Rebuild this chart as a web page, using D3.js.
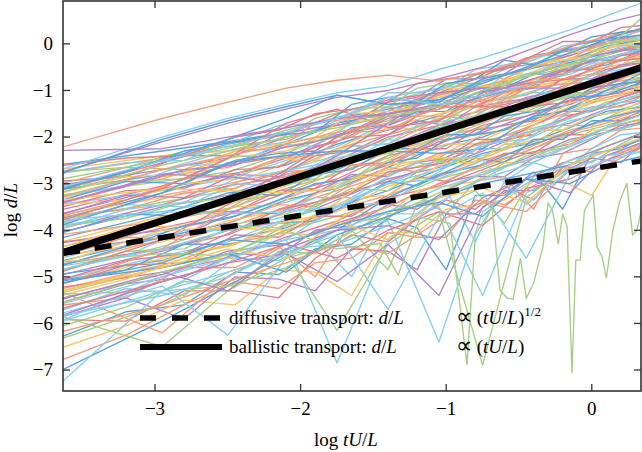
<!DOCTYPE html>
<html lang="en">
<head>
<meta charset="UTF-8" />
<title>log d/L against log tU/L</title>
<script src="https://d3js.org/d3.v7.min.js"></script>
<style>
  body { margin: 0; background: #fff; }
  svg { display: block; }
</style>
</head>
<body>
<svg width="642" height="452" font-family="'Liberation Serif', 'Times New Roman', serif"></svg>
<script>
// coarse time grid (log tU/L) for the first set of trajectories
const logT = [-3.9, -2.95, -2.5, -2.1, -1.75, -1.4, -1.05, -0.75, -0.45, -0.15, 0.1, 0.36];
// finer grid for the second set
const logT2 = [-3.9, -3.2, -2.8, -2.45, -2.15, -1.9, -1.65, -1.4, -1.2, -1.0, -0.8, -0.6, -0.4, -0.2, 0.0, 0.2, 0.36];

// log d/L, one row per trajectory
const topRuns = [
  [-2.45, -1.6, -1.25, -0.95, -0.78, -0.67, -0.8, -0.6, -0.35, -0.05, 0.15, 0.3],
  [-2.95, -2.0, -1.6, -1.3, -1.05, -0.9, -0.55, -0.3, 0.0, 0.3, 0.6, 0.9],
  [-3.0, -2.1, -1.7, -1.4, -1.15, -1.0, -0.75, -0.5, -0.15, 0.2, 0.45, 0.65],
  [-3.05, -2.05, -1.65, -1.35, -1.1, -1.3, -1.2, -0.85, -0.5, -0.2, 0.1, 0.35],
  [-2.3, -2.25, -2.0, -1.8, -1.6, -1.5, -1.3, -1.1, -0.8, -0.5, -0.3, -0.1],
  [-3.3, -2.5, -2.2, -1.9, -1.6, -1.15, -1.3, -1.1, -0.9, -0.6, -0.3, -0.1],
  [-3.4, -2.6, -2.3, -2.0, -1.8, -1.55, -1.35, -1.0, -0.7, -0.5, -0.1, 0.6],
  [-3.5, -2.7, -2.4, -2.15, -1.9, -1.7, -1.4, -1.2, -0.9, -0.6, -0.4, -0.2]
];
const topColors = [0, 5, 2, 1, 2, 5, 3, 0];

const bandRuns = [
  [-2.7, -2.3, -2.1, -1.9, -1.6, -1.4, -1.2, -0.95, -0.7, -0.4, -0.2, 0.0],
  [-2.8, -2.4, -2.3, -2.0, -1.75, -1.55, -1.15, -0.9, -0.65, -0.3, -0.1, 0.1],
  [-2.9, -2.45, -2.2, -2.05, -1.7, -1.35, -1.1, -0.8, -0.55, -0.25, 0.0, 0.2],
  [-3.05, -2.5, -2.25, -1.85, -1.6, -1.25, -0.95, -0.6, -0.4, -0.05, 0.15, 0.35],
  [-3.35, -2.55, -2.15, -1.95, -1.5, -1.2, -1.05, -0.7, -0.3, -0.15, 0.05, 0.3],
  [-3.15, -2.7, -2.45, -2.0, -1.75, -1.45, -1.0, -0.6, -0.45, -0.25, 0.05, 0.2],
  [-3.55, -2.7, -2.3, -2.1, -1.65, -1.15, -0.95, -0.85, -0.5, -0.1, 0.0, 0.15],
  [-3.25, -2.8, -2.6, -2.15, -1.7, -1.5, -1.2, -0.8, -0.55, -0.35, -0.05, 0.1],
  [-3.45, -2.9, -2.45, -2.3, -1.85, -1.35, -1.15, -0.95, -0.55, -0.2, -0.1, 0.05],
  [-3.65, -2.85, -2.65, -2.2, -2.0, -1.55, -1.1, -0.9, -0.7, -0.35, -0.15, 0.0],
  [-3.35, -2.95, -2.75, -2.35, -1.9, -1.65, -1.25, -1.05, -0.65, -0.45, -0.25, 0.0],
  [-3.75, -3.05, -2.6, -2.4, -2.1, -1.6, -1.4, -1.0, -0.8, -0.55, -0.2, -0.05],
  [-3.85, -3.1, -2.85, -2.45, -1.95, -1.75, -1.35, -1.15, -0.9, -0.5, -0.3, -0.15],
  [-3.55, -3.15, -2.9, -2.5, -2.2, -1.7, -1.3, -1.2, -0.85, -0.65, -0.35, -0.1],
  [-3.95, -3.2, -2.8, -2.6, -2.15, -1.85, -1.55, -1.1, -0.95, -0.6, -0.45, -0.2],
  [-3.8, -3.3, -3.05, -2.55, -2.3, -1.8, -1.5, -1.3, -0.95, -0.75, -0.4, -0.25],
  [-4.05, -3.25, -3.0, -2.75, -2.25, -1.95, -1.65, -1.25, -1.1, -0.7, -0.5, -0.35],
  [-3.9, -3.4, -3.15, -2.7, -2.4, -2.05, -1.6, -1.45, -1.05, -0.8, -0.6, -0.3],
  [-4.15, -3.45, -3.05, -2.85, -2.5, -2.0, -1.75, -1.4, -1.2, -0.85, -0.55, -0.4],
  [-4.25, -3.5, -3.25, -2.8, -2.55, -2.2, -1.75, -1.55, -1.15, -0.95, -0.65, -0.5],
  [-4.0, -3.6, -3.35, -2.95, -2.45, -2.2, -1.9, -1.5, -1.3, -0.95, -0.75, -0.45],
  [-4.35, -3.65, -3.2, -3.0, -2.7, -2.25, -1.8, -1.65, -1.25, -1.05, -0.75, -0.6],
  [-4.45, -3.7, -3.45, -3.05, -2.6, -2.35, -1.95, -1.6, -1.4, -1.05, -0.85, -0.6],
  [-4.2, -3.8, -3.55, -3.1, -2.8, -2.3, -2.05, -1.7, -1.35, -1.15, -0.85, -0.7],
  [-4.55, -3.85, -3.4, -3.2, -2.75, -2.45, -2.0, -1.8, -1.45, -1.1, -0.95, -0.7],
  [-4.65, -3.95, -3.65, -3.2, -2.9, -2.4, -2.15, -1.75, -1.55, -1.2, -0.9, -0.8],
  [-4.35, -4.0, -3.75, -3.3, -2.95, -2.6, -2.1, -1.9, -1.55, -1.3, -1.0, -0.75],
  [-4.8, -4.05, -3.6, -3.4, -3.05, -2.5, -2.25, -1.85, -1.65, -1.25, -1.05, -0.85],
  [-4.85, -4.15, -3.85, -3.35, -3.1, -2.65, -2.2, -2.0, -1.65, -1.4, -1.1, -0.9],
  [-4.65, -4.25, -3.8, -3.55, -3.0, -2.7, -2.4, -1.95, -1.75, -1.35, -1.2, -0.95],
  [-4.95, -4.2, -3.95, -3.5, -3.15, -2.8, -2.35, -2.15, -1.8, -1.45, -1.15, -1.0],
  [-5.05, -4.35, -3.9, -3.65, -3.3, -2.8, -2.5, -2.1, -1.85, -1.6, -1.25, -1.1],
  [-4.85, -4.4, -4.1, -3.6, -3.25, -2.95, -2.55, -2.2, -1.95, -1.55, -1.35, -1.1],
  [-5.15, -4.45, -4.0, -3.8, -3.35, -2.9, -2.65, -2.3, -1.9, -1.7, -1.4, -1.2],
  [-5.25, -4.55, -4.25, -3.75, -3.45, -3.0, -2.55, -2.4, -2.05, -1.65, -1.5, -1.25],
  [-5.05, -4.65, -4.2, -3.95, -3.5, -3.15, -2.7, -2.35, -2.15, -1.8, -1.45, -1.35],
  [-5.35, -4.6, -4.35, -3.9, -3.6, -3.05, -2.8, -2.45, -2.1, -1.9, -1.6, -1.35],
  [-5.45, -4.75, -4.3, -4.05, -3.55, -3.25, -2.85, -2.5, -2.25, -1.85, -1.65, -1.4],
  [-5.55, -4.8, -4.5, -4.0, -3.7, -3.35, -2.9, -2.65, -2.3, -1.95, -1.75, -1.5],
  [-5.35, -4.9, -4.6, -4.15, -3.8, -3.3, -3.05, -2.7, -2.35, -2.15, -1.8, -1.6],
  [-5.65, -4.95, -4.45, -4.3, -3.85, -3.5, -3.0, -2.8, -2.45, -2.05, -1.9, -1.65]
];

// trajectories that wander across the bundle
const crossRuns = [
  [-3.45, -3.1, -3.15, -3.2, -3.1, -2.5, -1.95, -1.35, -0.85, -0.45, -0.4, -0.3],
  [-5.15, -4.2, -3.45, -2.7, -2.0, -1.5, -1.35, -1.35, -1.35, -1.25, -0.9, -0.5],
  [-4.15, -3.2, -2.55, -2.4, -2.3, -2.3, -2.35, -2.25, -1.65, -1.15, -1.1, -0.8],
  [-4.75, -4.5, -4.55, -3.9, -3.1, -2.4, -1.75, -1.15, -0.65, -0.45, 0.0, 0.1],
  [-3.85, -3.6, -3.65, -3.6, -3.5, -3.4, -2.75, -2.15, -2.05, -1.45, -1.3, -1.2],
  [-5.45, -4.4, -3.55, -2.8, -2.6, -2.6, -2.05, -1.45, -0.95, -0.85, -0.8, -0.4],
  [-3.65, -2.8, -2.85, -3.0, -2.4, -1.7, -1.05, -0.95, -0.95, -0.95, -0.9, -0.4],
  [-4.95, -4.0, -3.95, -4.0, -3.4, -2.6, -2.45, -2.45, -1.85, -1.25, -1.2, -0.9],
  [-4.05, -3.1, -2.45, -1.7, -1.4, -1.8, -1.65, -1.05, -0.85, -0.75, -0.4, -0.3],
  [-3.35, -2.5, -2.05, -1.6, -1.1, -1.3, -1.25, -0.75, -0.55, -0.05, 0.1, 0.2]
];

// sparse, spiky trajectories below the bundle
const lowRuns = [
  [-7.4, -5.95, -5.2, -4.5, -4.0, -3.3, -2.8, -2.6, -2.2, -1.9, -1.6, -1.4],
  [-8.0, -5.3, -4.6, -4.2, -3.5, -3.0, -2.7, -2.2, -1.9, -1.6, -1.3, -1.05],
  [-5.0, -6.2, -5.0, -4.3, -3.9, -3.5, -3.0, -2.6, -2.3, -1.9, -1.7, -1.45],
  [-5.6, -6.5, -5.3, -4.6, -4.3, -3.7, -3.2, -2.75, -2.5, -2.1, -1.8, -1.6],
  [-5.4, -5.3, -5.2, -4.8, -4.2, -3.6, -3.3, -2.9, -2.4, -2.2, -1.9, -1.7],
  [-6.0, -5.2, -6.25, -4.6, -4.0, -3.6, -3.1, -2.8, -2.5, -2.2, -1.8, -1.5],
  [-6.3, -5.0, -4.6, -4.2, -6.85, -4.2, -3.4, -2.9, -2.6, -2.2, -1.9, -1.7],
  [-6.6, -5.6, -4.9, -4.5, -6.15, -4.3, -3.6, -6.9, -3.3, -2.6, -2.2, -1.9],
  [-6.1, -5.1, -4.7, -4.5, -5.1, -4.3, -5.4, -3.5, -2.9, -2.5, -2.2, -1.9],
  [-5.8, -5.0, -4.5, -4.2, -4.0, -3.8, -6.4, -3.6, -3.0, -2.5, -2.3, -2.0],
  [-6.0, -5.4, -5.0, -4.4, -4.3, -3.9, -3.5, -5.4, -3.2, -2.7, -2.4, -2.1],
  [-5.2, -4.8, -4.5, -4.9, -4.1, -3.7, -3.3, -3.0, -2.8, -2.6, -2.3, -2.05],
  [-5.9, -5.1, -4.7, -4.3, -4.6, -4.0, -3.6, -3.9, -3.1, -2.9, -2.5, -2.2],
  [-6.4, -5.6, -5.1, -4.7, -4.3, -4.5, -3.8, -3.4, -3.6, -2.7, -2.4, -2.2],
  [-5.7, -4.9, -5.3, -4.4, -4.0, -3.9, -4.2, -3.3, -2.9, -3.2, -2.4, -2.1],
  [-5.5, -4.8, -4.4, -4.6, -3.8, -4.2, -3.3, -3.1, -3.4, -2.6, -2.3, -2.0],
  [-6.2, -5.3, -4.9, -4.5, -4.1, -5.7, -3.7, -3.2, -4.6, -2.8, -2.5, -2.3],
  [-5.3, -4.7, -4.2, -4.3, -3.9, -3.6, -3.4, -3.7, -2.9, -3.0, -2.6, -2.4],
  [-5.0, -4.4, -4.0, -3.7, -3.5, -3.0, -2.9, -2.5, -3.45, -2.7, -2.4, -2.3]
];
const lowColors = [1, 5, 0, 3, 3, 5, 5, 3, 2, 5, 5, 1, 6, 0, 2, 4, 5, 1, 5];

// second set, sampled on logT2
const fineRuns = [
  [-3.0, -2.85, -2.4, -2.4, -1.95, -1.8, -1.7, -1.25, -1.15, -0.75, -0.75, -0.65, -0.25, -0.15, -0.05, 0.25, 0.3],
  [-3.2, -2.65, -2.7, -2.3, -2.25, -1.7, -1.6, -1.55, -1.15, -1.05, -0.65, -0.75, -0.45, -0.45, -0.05, 0.05, 0.1],
  [-3.4, -3.05, -2.6, -2.6, -2.15, -2.2, -1.7, -1.35, -1.45, -1.15, -1.15, -0.65, -0.65, -0.35, -0.35, -0.05, 0.0],
  [-3.1, -2.95, -2.9, -2.4, -2.45, -2.0, -2.0, -1.55, -1.25, -1.35, -0.95, -0.85, -0.85, -0.45, -0.35, -0.25, 0.0],
  [-3.6, -2.95, -3.0, -2.5, -2.35, -2.3, -1.8, -1.75, -1.45, -1.45, -1.05, -0.95, -0.65, -0.65, -0.35, -0.35, -0.1],
  [-3.7, -3.15, -3.1, -2.7, -2.65, -2.2, -2.0, -1.95, -1.55, -1.25, -1.35, -1.05, -0.95, -0.55, -0.55, -0.25, -0.2],
  [-3.5, -3.35, -3.0, -2.9, -2.45, -2.5, -2.1, -1.75, -1.85, -1.45, -1.35, -1.25, -0.85, -0.85, -0.55, -0.45, -0.2],
  [-3.9, -3.25, -3.3, -2.8, -2.85, -2.4, -2.3, -1.95, -1.65, -1.75, -1.35, -1.25, -1.15, -0.75, -0.75, -0.45, -0.4],
  [-3.8, -3.55, -3.2, -3.1, -2.75, -2.7, -2.2, -2.15, -1.85, -1.55, -1.65, -1.25, -1.25, -0.95, -0.65, -0.65, -0.4],
  [-4.1, -3.45, -3.5, -3.0, -3.05, -2.6, -2.5, -2.05, -2.15, -1.75, -1.55, -1.55, -1.15, -1.15, -0.85, -0.55, -0.6],
  [-4.0, -3.75, -3.4, -3.3, -2.95, -2.9, -2.4, -2.35, -2.05, -2.05, -1.65, -1.35, -1.35, -1.05, -1.05, -0.75, -0.5],
  [-4.3, -3.65, -3.7, -3.2, -3.25, -2.8, -2.7, -2.25, -2.25, -1.95, -1.95, -1.55, -1.45, -1.35, -0.95, -0.85, -0.6],
  [-4.4, -4.05, -3.6, -3.6, -3.15, -3.1, -2.6, -2.55, -2.25, -2.25, -1.85, -1.75, -1.65, -1.25, -1.15, -1.05, -0.8],
  [-4.6, -3.95, -3.9, -3.5, -3.45, -3.0, -2.9, -2.75, -2.35, -2.15, -2.15, -1.85, -1.55, -1.55, -1.25, -0.95, -0.9],
  [-4.5, -4.25, -4.1, -3.6, -3.65, -3.2, -2.8, -2.85, -2.55, -2.45, -2.05, -2.05, -1.75, -1.45, -1.45, -1.15, -1.0],
  [-4.8, -4.15, -4.2, -3.8, -3.45, -3.5, -3.0, -2.65, -2.75, -2.35, -2.35, -1.95, -1.95, -1.65, -1.35, -1.35, -1.1],
  [-4.9, -4.55, -4.0, -4.0, -3.65, -3.3, -3.3, -2.85, -2.55, -2.65, -2.25, -2.25, -1.85, -1.85, -1.55, -1.25, -1.2],
  [-5.1, -4.45, -4.4, -3.9, -3.95, -3.5, -3.1, -3.15, -2.75, -2.45, -2.55, -2.15, -2.15, -1.75, -1.75, -1.45, -1.3],
  [-5.2, -4.85, -4.3, -4.3, -3.85, -3.8, -3.4, -2.95, -3.05, -2.75, -2.45, -2.55, -2.05, -2.05, -1.65, -1.65, -1.4],
  [-5.4, -4.75, -4.7, -4.1, -4.15, -3.7, -3.7, -3.25, -2.85, -2.95, -2.65, -2.35, -2.35, -1.95, -1.95, -1.65, -1.5],
  [-5.6, -5.05, -4.6, -4.6, -4.05, -4.1, -3.6, -3.65, -3.15, -3.05, -2.95, -2.55, -2.55, -2.25, -1.85, -1.85, -1.6],
  [-5.8, -5.15, -5.0, -4.5, -4.55, -4.0, -3.9, -3.45, -3.55, -3.15, -2.85, -2.85, -2.45, -2.35, -2.05, -1.75, -1.7],
  [-5.7, -5.45, -4.8, -4.8, -4.35, -5.0, -3.8, -3.75, -3.25, -3.65, -2.95, -2.85, -3.55, -2.35, -2.25, -1.85, -1.8],
  [-6.0, -5.25, -5.4, -4.6, -4.65, -4.2, -5.0, -3.65, -3.65, -3.15, -4.25, -2.95, -2.55, -2.75, -2.25, -1.95, -1.9],
  [-6.3, -5.65, -5.1, -5.2, -4.45, -4.5, -4.0, -4.85, -3.45, -3.45, -3.15, -3.85, -2.85, -2.55, -2.55, -2.15, -1.9],
  [-6.6, -5.75, -5.6, -4.9, -4.95, -4.4, -4.3, -3.75, -3.95, -4.85, -3.25, -3.25, -2.75, -3.55, -2.35, -2.25, -2.0],
  [-5.9, -5.95, -5.3, -5.3, -5.45, -4.6, -4.1, -4.25, -3.75, -3.35, -3.55, -3.05, -3.35, -2.65, -2.65, -2.35, -2.1],
  [-6.8, -6.05, -5.5, -5.6, -4.85, -4.9, -5.4, -4.05, -4.05, -3.55, -3.45, -3.35, -2.95, -2.95, -3.25, -2.25, -2.2],
  [-6.1, -5.45, -5.9, -5.0, -5.05, -5.3, -4.4, -4.45, -4.85, -3.65, -3.65, -3.15, -3.15, -2.75, -2.45, -2.55, -2.1],
  [-7.1, -6.25, -5.6, -5.1, -5.25, -4.7, -4.6, -4.05, -4.15, -4.15, -3.35, -3.45, -3.05, -2.65, -2.75, -2.45, -2.2],
  [-2.9, -2.55, -2.5, -2.1, -1.75, -1.7, -1.5, -1.05, -1.05, -0.95, -0.55, -0.45, -0.35, -0.05, 0.05, 0.15, 0.3],
  [-2.8, -2.65, -2.3, -2.2, -2.05, -1.6, -1.4, -1.35, -0.95, -0.85, -0.85, -0.55, -0.25, -0.25, 0.05, 0.05, 0.2],
  [-3.3, -2.75, -2.3, -2.1, -1.95, -1.9, -1.3, -1.15, -1.25, -0.85, -0.75, -0.35, -0.45, -0.15, 0.15, 0.25, 0.3],
  [-2.7, -2.45, -2.4, -2.0, -1.85, -1.5, -1.4, -1.25, -0.85, -0.75, -0.65, -0.55, -0.25, 0.05, 0.05, 0.35, 0.4],
  [-3.4, -2.85, -2.8, -2.3, -2.15, -2.0, -1.5, -1.45, -1.35, -0.95, -0.95, -0.85, -0.45, -0.35, -0.25, 0.05, 0.1],
  [-3.6, -3.05, -2.7, -2.6, -2.25, -2.1, -1.9, -1.55, -1.55, -1.25, -0.95, -0.95, -0.75, -0.65, -0.25, -0.15, -0.1],
  [-3.9, -3.35, -2.9, -2.8, -2.45, -2.4, -1.9, -1.85, -1.55, -1.55, -1.25, -1.15, -0.75, -0.75, -0.65, -0.35, -0.3],
  [-4.2, -3.55, -3.4, -2.9, -2.75, -2.6, -2.2, -2.15, -1.75, -1.65, -1.55, -1.15, -1.05, -1.05, -0.65, -0.55, -0.5],
  [-4.7, -4.05, -3.7, -3.5, -3.05, -2.9, -2.4, -2.35, -2.05, -1.75, -1.75, -1.45, -1.45, -1.15, -1.05, -0.95, -0.7],
  [-5.0, -4.35, -3.9, -3.7, -3.35, -3.0, -2.9, -2.55, -2.45, -2.05, -1.95, -1.85, -1.55, -1.45, -1.15, -0.85, -0.8],
  [-5.3, -4.65, -4.5, -4.0, -3.55, -3.4, -3.2, -2.75, -2.65, -2.55, -2.15, -2.05, -1.95, -1.55, -1.45, -1.15, -1.0],
  [-5.5, -4.95, -4.5, -4.3, -3.85, -3.7, -3.3, -3.25, -2.85, -2.55, -2.55, -2.25, -1.85, -1.85, -1.55, -1.45, -1.2]
];

// the one trajectory that stays far below (own, finer sampling)
const outlierT = [-3.9, -2.95, -2.5, -2.1, -1.75, -1.455, -1.33, -1.18, -0.974, -0.857, -0.8, -0.685,
  -0.63, -0.58, -0.54, -0.49, -0.45, -0.4, -0.335, -0.3, -0.27, -0.23, -0.2, -0.17, -0.136,
  -0.11, -0.08, -0.05, 0.01, 0.036, 0.07, 0.1, 0.145, 0.19, 0.24, 0.28, 0.31, 0.345];
const outlierD = [-5.8, -4.9, -4.5, -4.0, -4.4, -4.28, -4.96, -3.72, -3.85, -6.89, -4.1, -3.5,
  -5.29, -5.46, -5.48, -4.6, -5.46, -5.14, -4.34, -3.42, -3.57, -4.3, -3.65, -3.91, -7.07,
  -4.64, -4.64, -3.57, -3.25, -4.36, -4.56, -5.03, -4.0, -3.4, -2.99, -4.1, -4.0, -3.5];

// reference power laws, end points across the plotted range
const refT = [-3.632, 0.338];
const ballistic = [-4.477, -0.507];
const diffusive = [-4.496, -2.511];

const xTicks = [-3, -2, -1, 0];
const yTicks = [0, -1, -2, -3, -4, -5, -6, -7];

const palette = ["#f49d7a", "#55a3de", "#b283c8", "#a5cf82", "#fcc462", "#84cff1", "#e27d8a"];

const svg = d3.select("svg");
const box = { left: 63, right: 641, top: 1, bottom: 391 };

const x = d3.scaleLinear().domain([-3.632, 0.338]).range([box.left, box.right]);
const y = d3.scaleLinear().domain([-7.45, 0.92]).range([box.bottom, box.top]);

svg.append("clipPath").attr("id", "plot")
  .append("rect")
  .attr("x", box.left).attr("y", box.top)
  .attr("width", box.right - box.left).attr("height", box.bottom - box.top);

const plot = svg.append("g").attr("clip-path", "url(#plot)");

function drawRuns(runs, grid, colorOf) {
  const line = d3.line().x((d, i) => x(grid[i])).y(d => y(d));
  plot.append("g")
    .selectAll("path")
    .data(runs)
    .join("path")
    .attr("d", line)
    .attr("fill", "none")
    .attr("stroke", (d, i) => palette[colorOf(i)])
    .attr("stroke-width", 1.35)
    .attr("stroke-linejoin", "round");
}

drawRuns(bandRuns, logT, i => (i * 3 + 1) % 7);
drawRuns(fineRuns, logT2, i => (i * 5 + 2) % 7);
drawRuns(crossRuns, logT, i => (i * 2 + 4) % 7);
drawRuns(lowRuns, logT, i => lowColors[i]);
drawRuns(topRuns, logT, i => topColors[i]);

plot.append("path")
  .datum(outlierD)
  .attr("d", d3.line().x((d, i) => x(outlierT[i])).y(d => y(d)))
  .attr("fill", "none")
  .attr("stroke", palette[3])
  .attr("stroke-width", 1.35);

const refLine = d3.line().x((d, i) => x(refT[i])).y(d => y(d));

plot.append("path")
  .datum(ballistic)
  .attr("d", refLine)
  .attr("stroke", "#000")
  .attr("stroke-width", 7)
  .attr("fill", "none");

plot.append("path")
  .datum(diffusive)
  .attr("d", refLine)
  .attr("stroke", "#000")
  .attr("stroke-width", 5.5)
  .attr("stroke-dasharray", "17,15")
  .attr("fill", "none");

// frame and inward ticks on all four sides
const frame = "#333";
svg.append("rect")
  .attr("x", box.left).attr("y", box.top)
  .attr("width", box.right - box.left).attr("height", box.bottom - box.top)
  .attr("fill", "none").attr("stroke", frame).attr("stroke-width", 1.6);

const tickLen = 7;
const ticks = svg.append("g").attr("stroke", frame).attr("stroke-width", 1.3);
xTicks.forEach(t => {
  ticks.append("line").attr("x1", x(t)).attr("x2", x(t)).attr("y1", box.bottom).attr("y2", box.bottom - tickLen);
  ticks.append("line").attr("x1", x(t)).attr("x2", x(t)).attr("y1", box.top).attr("y2", box.top + tickLen);
});
yTicks.forEach(t => {
  ticks.append("line").attr("y1", y(t)).attr("y2", y(t)).attr("x1", box.left).attr("x2", box.left + tickLen);
  ticks.append("line").attr("y1", y(t)).attr("y2", y(t)).attr("x1", box.right).attr("x2", box.right - tickLen);
});

const fmt = d3.format("d");
svg.append("g").selectAll("text")
  .data(xTicks).join("text")
  .attr("x", d => x(d)).attr("y", 415)
  .attr("text-anchor", "middle")
  .attr("font-size", 19)
  .text(fmt);

svg.append("g").selectAll("text")
  .data(yTicks).join("text")
  .attr("x", 53).attr("y", d => y(d)).attr("dy", "0.33em")
  .attr("text-anchor", "end")
  .attr("font-size", 19)
  .text(fmt);

// axis titles
function mathLabel(sel, parts) {
  parts.forEach(([txt, it]) => sel.append("tspan").attr("font-style", it ? "italic" : null).text(txt));
}

const xTitle = svg.append("text").attr("x", 346).attr("y", 446).attr("text-anchor", "middle").attr("font-size", 19);
mathLabel(xTitle, [["log ", false], ["tU", true], ["/", false], ["L", true]]);

const yTitle = svg.append("text")
  .attr("transform", "translate(17,210) rotate(-90)")
  .attr("text-anchor", "middle").attr("font-size", 19);
mathLabel(yTitle, [["log ", false], ["d", true], ["/", false], ["L", true]]);

// legend
const legend = svg.append("g").attr("font-size", 19);
legend.append("line").attr("x1", 140).attr("x2", 222).attr("y1", 318).attr("y2", 318)
  .attr("stroke", "#000").attr("stroke-width", 5.5).attr("stroke-dasharray", "16,16");
legend.append("line").attr("x1", 140).attr("x2", 222).attr("y1", 347).attr("y2", 347)
  .attr("stroke", "#000").attr("stroke-width", 6);

const l1 = legend.append("text").attr("x", 229).attr("y", 324);
mathLabel(l1, [["diffusive transport: ", false], ["d", true], ["/", false], ["L", true]]);
const l2 = legend.append("text").attr("x", 229).attr("y", 353);
mathLabel(l2, [["ballistic transport: ", false], ["d", true], ["/", false], ["L", true]]);

const p1 = legend.append("text").attr("x", 456).attr("y", 324);
p1.append("tspan").attr("font-size", 23).text("\u221D");
mathLabel(p1, [[" (", false], ["tU", true], ["/", false], ["L", true], [")", false]]);
p1.append("tspan").attr("font-size", 13).attr("dy", -8).text("1/2");
const p2 = legend.append("text").attr("x", 456).attr("y", 353);
p2.append("tspan").attr("font-size", 23).text("\u221D");
mathLabel(p2, [[" (", false], ["tU", true], ["/", false], ["L", true], [")", false]]);
</script>
</body>
</html>
